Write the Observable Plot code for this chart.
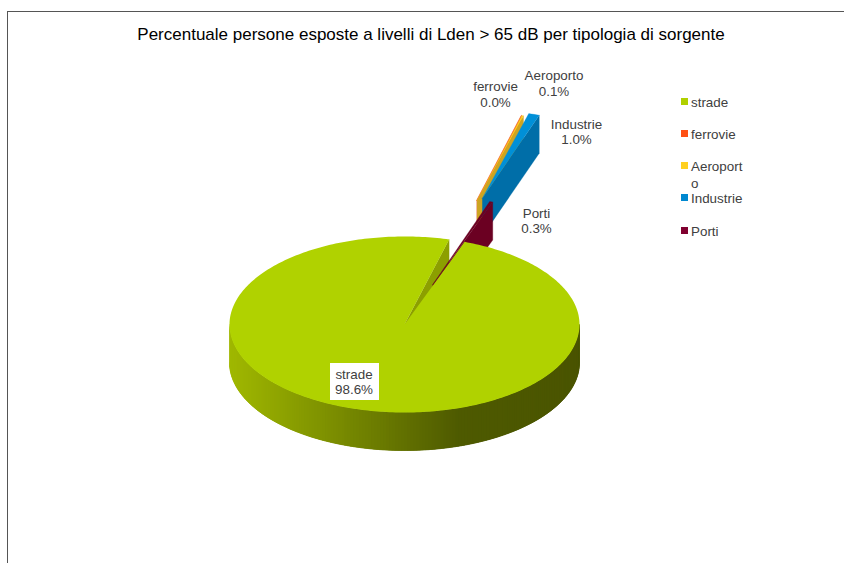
<!DOCTYPE html>
<html>
<head>
<meta charset="utf-8">
<script src="https://cdn.jsdelivr.net/npm/d3@7"></script>
<script src="https://cdn.jsdelivr.net/npm/@observablehq/plot@0.6"></script>
<style>
html,body{margin:0;padding:0;background:#fff;}
svg{display:block;}
</style>
</head>
<body>
<div id="chart"></div>
<script>
const titleText = "Percentuale persone esposte a livelli di Lden > 65 dB per tipologia di sorgente";
const categories = ["strade", "ferrovie", "Aeroporto", "Industrie", "Porti"];
const percentages = [98.6, 0.03, 0.149, 1.0, 0.3];
const legendLabels = ["strade", "ferrovie", "Aeroport\no", "Industrie", "Porti"];

const topColors = ["#b0d200", "#ff4a12", "#ffd01e", "#0090d8", "#6b0022"];
const wallColors = ["#8c9f00", "#e0501a", "#cda422", "#006ea8", "#6b0022"];
const legendColors = ["#b0d000", "#ff5014", "#ffd020", "#0088d0", "#800030"];
const explode = [0, 1.5, 1.5, 1.5, 0.48];
const nudgeX = [0, 0.028, 0.022, 0, 0];
const nudgeY = [0, 0.04, 0.04, 0, 0];

const W = 844, H = 563, cx = 404, cy = 324, rx = 175, ry = 88, depth = 38 / ry, firstAngle = 20.1;
const X = p => (p - cx) / rx, Y = p => (cy - p) / ry;
const rad = Math.PI / 180;

const slices = d3.pie().sort(null).startAngle(firstAngle * rad).endAngle((firstAngle + 360) * rad)(percentages)
  .map((s, i) => ({
    i, name: categories[i], value: percentages[i],
    a0: s.startAngle, a1: s.endAngle,
    ox: explode[i] * Math.sin((s.startAngle + s.endAngle) / 2) + nudgeX[i],
    oy: explode[i] * Math.cos((s.startAngle + s.endAngle) / 2) - nudgeY[i]
  }));

const polys = [], mainTop = [];
let pid = 0;
const poly = (pts, fill, list = polys) => { pid++; pts.forEach(([x, y]) => list.push({x, y, id: pid, fill})); };
const arc = (s, a0, a1, n) => d3.range(n + 1).map(k => {
  const a = a0 + (a1 - a0) * k / n;
  return [s.ox + Math.sin(a), s.oy + Math.cos(a)];
});
const topFace = (s, list) => poly([[s.ox, s.oy], ...arc(s, s.a0, s.a1, Math.max(2, Math.ceil((s.a1 - s.a0) / rad)))], topColors[s.i], list);
const radialWall = (s, a, color, list) => {
  const e = [s.ox + Math.sin(a), s.oy + Math.cos(a)];
  poly([[s.ox, s.oy], e, [e[0], e[1] - depth], [s.ox, s.oy - depth]], color, list);
};

const shade = d3.scaleLinear().domain([-1, 0.3, 1]).range(["#a0b800", "#4e5a00", "#4a5400"]).clamp(true);
const main = slices[0];
radialWall(main, main.a1, wallColors[0]);
// overlapping strips, painted from the left edge onward, so no seams show
for (let d = 270; d > 90; d -= 1) {
  const a = d * rad, b = Math.max(d - 3, 90) * rad;
  const p = [Math.sin(a), Math.cos(a)], q = [Math.sin(b), Math.cos(b)];
  poly([p, q, [q[0], q[1] - depth], [p[0], p[1] - depth]], shade(p[0]));
}
[1, 2, 3, 4].forEach(i => {
  const s = slices[i];
  radialWall(s, s.a1, wallColors[i]);
  topFace(s);
});
topFace(main, mainTop);

const sliceLabels = [
  {i: 0, px: 353.5, py: 367.5},
  {i: 1, px: 495, py: 80},
  {i: 2, px: 553.5, py: 69},
  {i: 3, px: 576, py: 117.5},
  {i: 4, px: 536, py: 206.5}
].map(d => ({...d, text: `${categories[d.i]}\n${percentages[d.i].toFixed(1)}%`}));

const legendRows = [94, 126, 158, 190, 223].map((py, i) => ({py, i, text: legendLabels[i], color: legendColors[i]}));

const chart = Plot.plot({
  width: W, height: H, margin: 0,
  style: {background: "#fff", fontFamily: "'Liberation Sans', Arial, sans-serif"},
  x: {domain: [X(0), X(W)], range: [0, W], axis: null},
  y: {domain: [Y(H), Y(0)], range: [H, 0], axis: null},
  color: {type: "identity"},
  marks: [
    Plot.ruleX([X(7)], {y1: Y(11), y2: Y(H), stroke: "#555"}),
    Plot.ruleY([Y(11)], {x1: X(7), x2: X(W), stroke: "#555"}),
    Plot.text([titleText], {x: X(430.5), y: Y(34), fontSize: 17, fill: "#000"}),
    Plot.line(polys, {x: "x", y: "y", z: "id", fill: "fill", strokeWidth: 0.3, stroke: "fill", curve: "linear"}),
    Plot.line(mainTop, {x: "x", y: "y", z: "id", fill: "fill", stroke: "none", curve: "linear"}),
    Plot.rect([sliceLabels[0]], {x1: X(330), x2: X(379), y1: Y(363), y2: Y(400), fill: "#fff"}),
    Plot.text(sliceLabels, {x: d => X(d.px), y: d => Y(d.py), text: "text", fontSize: 13.4, lineHeight: 1.15, lineAnchor: "top", fill: "#404040"}),
    Plot.rect(legendRows, {x1: X(681), x2: X(688), y1: d => Y(d.py + 4), y2: d => Y(d.py + 11), fill: "color"}),
    Plot.text(legendRows, {x: X(690.5), y: d => Y(d.py + 1), text: "text", textAnchor: "start", lineAnchor: "top", lineHeight: 1.25, fontSize: 13.4, fill: "#404040"})
  ]
});
document.getElementById("chart").appendChild(chart);
</script>
</body>
</html>
